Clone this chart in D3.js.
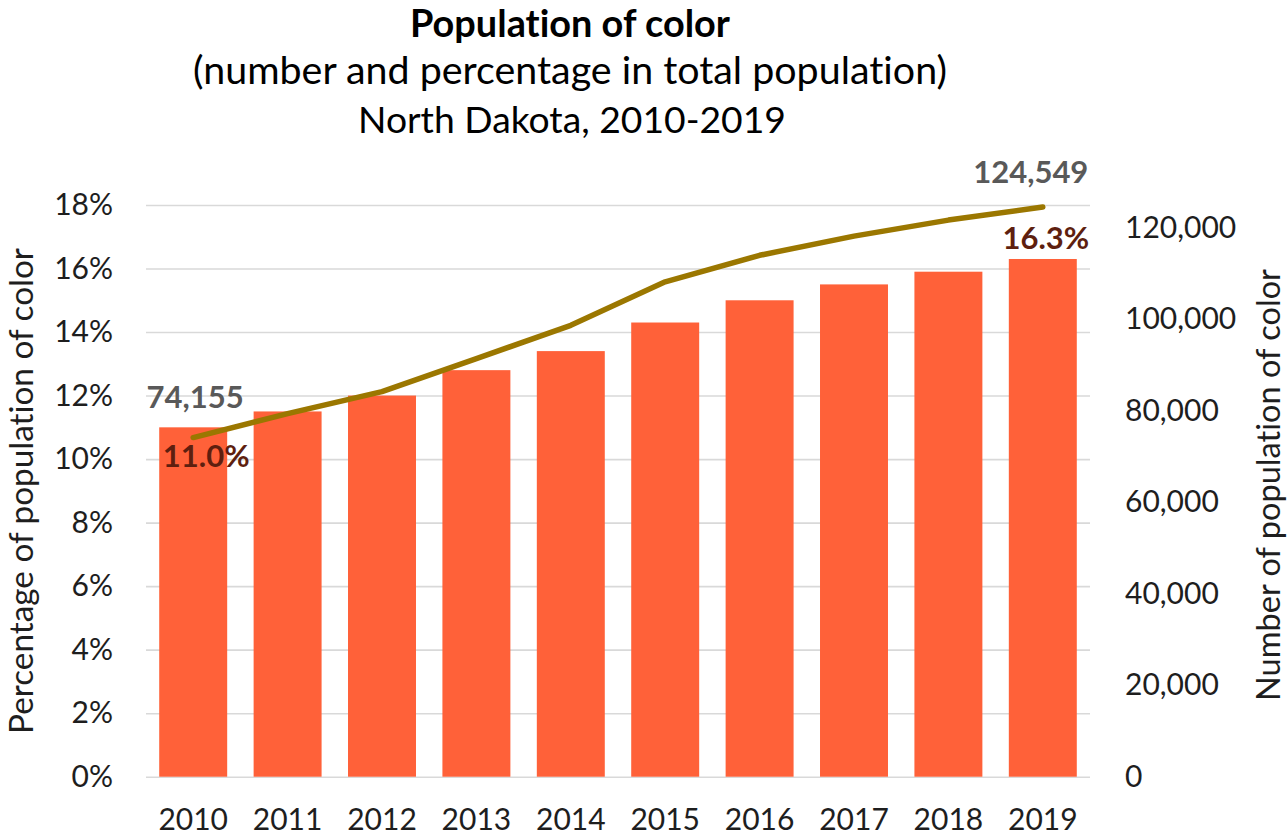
<!DOCTYPE html>
<html>
<head>
<meta charset="utf-8">
<script src="https://cdn.jsdelivr.net/npm/d3@7"></script>
<style>
  html, body { margin: 0; padding: 0; background: #ffffff; }
  svg { display: block; font-family: Lato, "Open Sans", sans-serif; font-variant-ligatures: none; font-feature-settings: "liga" 0, "clig" 0; }
</style>
</head>
<body>
<svg id="chart" width="1288" height="835"></svg>
<script>
// ---- data ----
const years = ["2010", "2011", "2012", "2013", "2014", "2015", "2016", "2017", "2018", "2019"];
const pctValues = [11.0, 11.5, 12.0, 12.8, 13.4, 14.3, 15.0, 15.5, 15.9, 16.3];
const popValues = [74155, 79400, 84200, 91400, 98700, 108200, 114000, 118200, 121700, 124549];
const leftTicks = [0, 2, 4, 6, 8, 10, 12, 14, 16, 18];
const rightTicks = [0, 20000, 40000, 60000, 80000, 100000, 120000];
const titleLines = ["Population of color", "(number and percentage in total population)", "North Dakota, 2010-2019"];
const leftAxisTitle = "Percentage of population of color";
const rightAxisTitle = "Number of population of color";

// ---- layout ----
const svg = d3.select("#chart");
const plotLeft = 146, plotRight = 1090, plotTop = 205, plotBottom = 776.7;

const x = d3.scaleBand().domain(years).range([plotLeft, plotRight]).paddingInner(0.28).paddingOuter(0.14);
const yL = d3.scaleLinear().domain([0, 18]).range([plotBottom, plotTop]);
const yR = d3.scaleLinear().domain([0, 125000]).range([plotBottom, plotTop]);

const tickFont = 30;
const textColor = "#1e1e1e";

// scale a text's font size so that its width matches a target width
function fitWidth(sel, target) {
  const node = sel.node();
  const fs = parseFloat(sel.attr("font-size"));
  const w = node.getComputedTextLength();
  if (w > 0) sel.attr("font-size", (fs * target / w).toFixed(2));
  return sel;
}

// gridlines + left axis
const gLeft = svg.append("g")
  .attr("transform", `translate(${plotLeft},0)`)
  .call(d3.axisLeft(yL).tickValues(leftTicks).tickFormat(d => d + "%")
    .tickSizeInner(-(plotRight - plotLeft)).tickSizeOuter(0).tickPadding(33));
gLeft.select(".domain").remove();
gLeft.selectAll(".tick line").attr("stroke", "#d9d9d9").attr("stroke-width", 1.6);
gLeft.selectAll(".tick text").attr("font-size", tickFont).attr("fill", textColor).attr("font-family", "Lato");

// right axis
const gRight = svg.append("g")
  .attr("transform", `translate(${plotRight},0)`)
  .call(d3.axisRight(yR).tickValues(rightTicks).tickFormat(d3.format(","))
    .tickSize(0).tickPadding(35));
gRight.select(".domain").remove();
gRight.selectAll(".tick text").attr("font-size", tickFont).attr("fill", textColor).attr("font-family", "Lato");

// x axis
const gX = svg.append("g")
  .attr("transform", `translate(0,${plotBottom})`)
  .call(d3.axisBottom(x).tickSize(0).tickPadding(32));
gX.select(".domain").remove();
gX.selectAll(".tick text").attr("font-size", tickFont).attr("fill", textColor).attr("font-family", "Lato");

// bars
svg.append("g").selectAll("rect")
  .data(years)
  .join("rect")
  .attr("x", d => x(d))
  .attr("width", x.bandwidth())
  .attr("y", (d, i) => yL(pctValues[i]))
  .attr("height", (d, i) => plotBottom - yL(pctValues[i]))
  .attr("fill", "#ff6139");

// line
const line = d3.line()
  .x((d, i) => x(years[i]) + x.bandwidth() / 2)
  .y(d => yR(d));
svg.append("path")
  .datum(popValues)
  .attr("d", line)
  .attr("fill", "none")
  .attr("stroke", "#9b7700")
  .attr("stroke-width", 5.5)
  .attr("stroke-linejoin", "round")
  .attr("stroke-linecap", "round");

// data labels (first & last)
const labelFont = 31;
const last = years.length - 1;
const cx = i => x(years[i]) + x.bandwidth() / 2;
svg.append("text").attr("x", cx(0) + 2).attr("y", yR(popValues[0]) - 30)
  .attr("text-anchor", "middle").attr("font-weight", "bold").attr("font-size", labelFont)
  .attr("fill", "#595959").text(d3.format(",")(popValues[0]));
svg.append("text").attr("x", cx(last) - 12).attr("y", yR(popValues[last]) - 24)
  .attr("text-anchor", "middle").attr("font-weight", "bold").attr("font-size", labelFont)
  .attr("fill", "#595959").text(d3.format(",")(popValues[last]));
svg.append("text").attr("x", cx(0) + 13).attr("y", yL(pctValues[0]) + 40)
  .attr("text-anchor", "middle").attr("font-weight", "bold").attr("font-size", labelFont)
  .attr("fill", "#5e1f0f").text(pctValues[0].toFixed(1) + "%");
svg.append("text").attr("x", cx(last) + 3).attr("y", yL(pctValues[last]) - 10)
  .attr("text-anchor", "middle").attr("font-weight", "bold").attr("font-size", labelFont)
  .attr("fill", "#5e1f0f").text(pctValues[last].toFixed(1) + "%");

// titles
const titleX = 570;
fitWidth(svg.append("text").attr("x", titleX).attr("y", 37).attr("text-anchor", "middle")
  .attr("font-weight", "bold").attr("font-size", 32).attr("fill", "#000").text(titleLines[0]), 320);
fitWidth(svg.append("text").attr("x", titleX).attr("y", 84).attr("text-anchor", "middle")
  .attr("font-size", 31).attr("fill", "#000").text(titleLines[1]), 754);
fitWidth(svg.append("text").attr("x", titleX + 2).attr("y", 133).attr("text-anchor", "middle")
  .attr("font-size", 31).attr("fill", "#000").text(titleLines[2]), 428);

// axis titles
fitWidth(svg.append("text").attr("transform", "translate(33,491) rotate(-90)")
  .attr("text-anchor", "middle").attr("font-size", 30).attr("fill", textColor).text(leftAxisTitle), 486);
fitWidth(svg.append("text").attr("transform", "translate(1280,485) rotate(-90)")
  .attr("text-anchor", "middle").attr("font-size", 30).attr("fill", textColor).text(rightAxisTitle), 432);
</script>
</body>
</html>
